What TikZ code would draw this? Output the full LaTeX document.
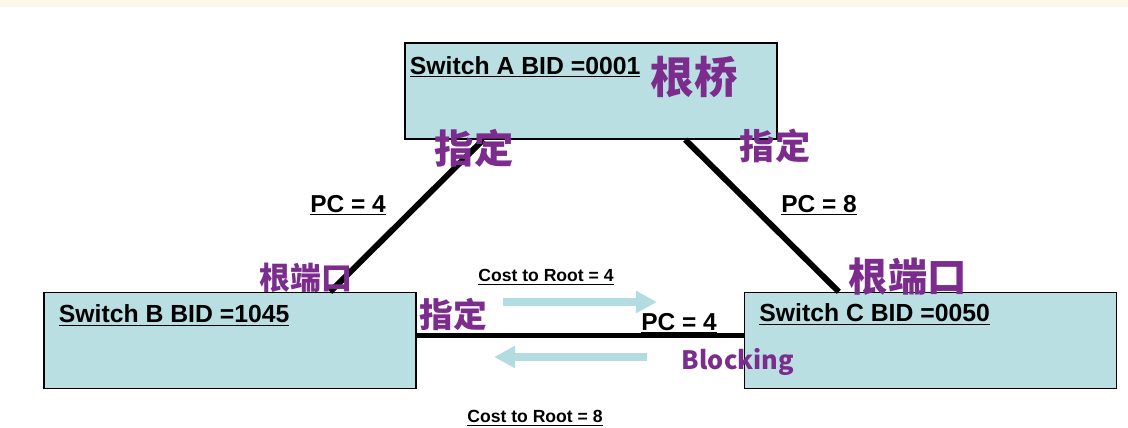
\documentclass[tikz,border=0pt]{standalone}
\usepackage{fontspec}
\setmainfont{Liberation Sans}
\newfontfamily\cjk{Noto Sans CJK SC}
\usetikzlibrary{calc,arrows.meta}
\definecolor{boxfill}{HTML}{B9DFE3}
\definecolor{flowcyan}{HTML}{B3DCE0}
\definecolor{inkpurple}{HTML}{7B2C8C}
\definecolor{strip}{HTML}{FCF7EA}

\begin{document}
\begin{tikzpicture}[x=0.025cm, y=-0.025cm,
        every node/.style={inner sep=1pt},
        switchbox/.style={draw=black, line width=1pt, fill=boxfill,
            minimum width=9.3cm, minimum height=2.4cm, inner sep=0pt},
        boxtitle/.style={anchor=base west, font=\fontsize{17.6}{20}\selectfont\bfseries},
        link/.style={line width=4.2pt},
        pclabel/.style={font=\fontsize{17.4}{20}\selectfont\bfseries},
        costlabel/.style={font=\fontsize{12.5}{15}\selectfont\bfseries},
        flow/.style={flowcyan, line width=5.5pt, -{Triangle[width=15pt,length=15pt]}},
        hand/.style={text=inkpurple, font=\cjk\bfseries\fontsize{#1}{#1}\selectfont}]
        % Frame
        \useasboundingbox (0,0) rectangle (1128,427);
        \fill[strip] (0,0) rectangle (1128,7);

        % Switches
        \node[switchbox] (A) at (591,91) {};
        \node[switchbox] (B) at (230,340.5) {};
        \node[switchbox] (C) at (930.5,340.5) {};
        \node[boxtitle] (Atitle) at ($(A.north west)+(4,32)$) {\underline{Switch A BID =0001}};
        \node[boxtitle] (Btitle) at ($(B.north west)+(14,31)$) {\underline{Switch B BID =1045}};
        \node[boxtitle] (Ctitle) at ($(C.north west)+(14,30)$) {\underline{Switch C BID =0050}};

        % Ports
        \coordinate (Ap1) at ($(A.south west)+(79,0)$);
        \coordinate (Ap2) at ($(A.south west)+(281,0)$);
        \coordinate (Bp1) at ($(B.north west)+(287,0)$);
        \coordinate (Cp1) at ($(C.north west)+(95,0)$);

        % Links
        \draw[link] (Ap1) -- (Bp1);
        \draw[link] (Ap2) -- (Cp1);
        \draw[link] ($(B.east)+(0,-5)$) -- ($(C.west)+(0,-5)$);

        % Path costs
        \node[pclabel] (pcAB) at (348,205) {\underline{PC = 4}};
        \node[pclabel] (pcAC) at (819,205) {\underline{PC = 8}};
        \node[pclabel] (pcBC) at (679,323) {\underline{PC = 4}};

        % Cost to root flows
        \coordinate (f1s) at (503,302);
        \coordinate (f1e) at (657,302);
        \coordinate (f2s) at (647,357);
        \coordinate (f2e) at (494,357);
        \draw[flow] (f1s) -- (f1e);
        \draw[flow] (f2s) -- (f2e);
        \node[costlabel] (cost4) at (546,277) {\underline{Cost to Root = 4}};
        \node[costlabel] (cost8) at (535,418) {\underline{Cost to Root = 8}};

        % Handwritten notes
        \node[hand=31] (rootA) at (694,77) {根桥};
        \node[hand=28] (desA1) at (474,148) {指定};
        \node[hand=25] (desA2) at (775,146) {指定};
        \node[hand=22] (rootB) at (306,278) {根端口};
        \node[hand=24] (desB) at (453,314) {指定};
        \node[hand=28] (rootC) at (908,277) {根端口};
        \node[hand=18] (blockC) at (738,362) {Blocking};
    \end{tikzpicture}
\end{document}
